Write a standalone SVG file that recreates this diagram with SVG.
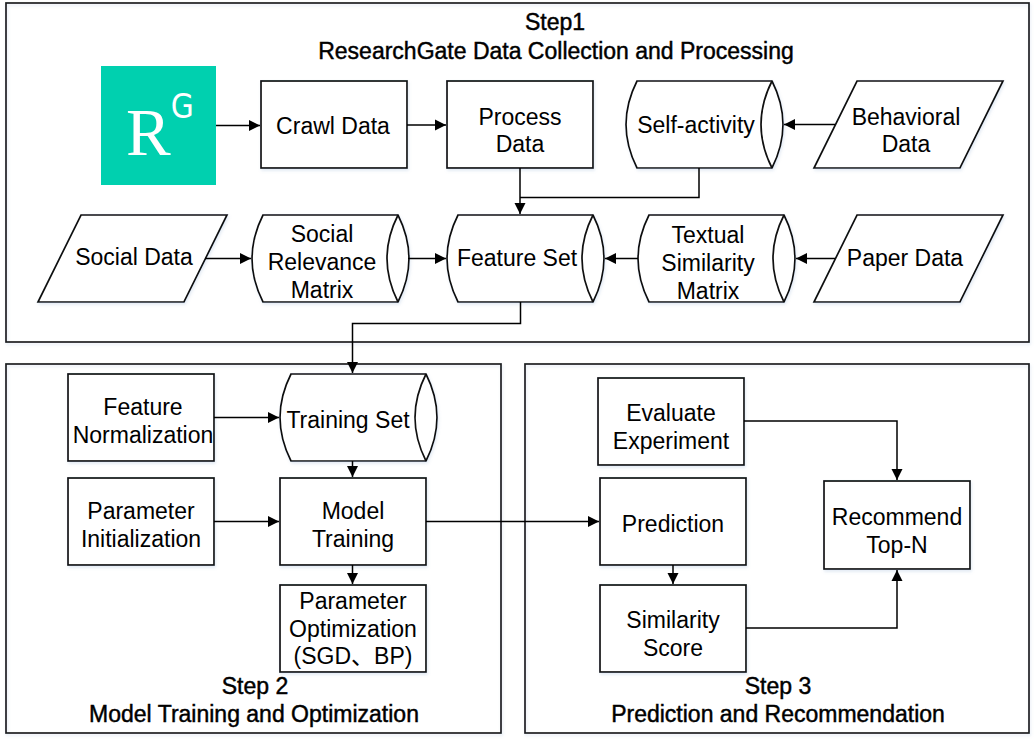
<svg xmlns="http://www.w3.org/2000/svg" width="1036" height="743" viewBox="0 0 1036 743">
<style>
text{font-family:"Liberation Sans",Arial,"Noto Sans CJK SC",sans-serif;font-size:23px;fill:#000;text-anchor:middle;transform:translateY(1px)}
.t{stroke:#000;stroke-width:.45px}
.s{fill:#fff;stroke:#111;stroke-width:1.7;filter:url(#sh)}
.l{fill:none;stroke:#111;stroke-width:1.7}
.f{fill:none;stroke:#1a1a1a;stroke-width:1.7;filter:url(#sh)}
.c{fill:none;stroke:#000;stroke-width:1.5;marker-end:url(#a)}
.p{fill:none;stroke:#000;stroke-width:1.5}
</style>
<defs>
<filter id="sh" x="-5%" y="-5%" width="110%" height="115%"><feDropShadow dx="1" dy="2" stdDeviation="1.5" flood-color="#7fa3cc" flood-opacity=".22"/></filter>
<marker id="a" markerUnits="userSpaceOnUse" markerWidth="12" markerHeight="13" refX="11" refY="6.500" orient="auto"><path d="M0 1L11 6.500L0 12Z" fill="#000"/></marker>
<path id="cyl" d="M11 0H146Q168 43.500 146 87H11Q-11 43.500 11 0Z"/>
<path id="lens" d="M146 0Q124 43.500 146 87"/>
<path id="par" d="M43 0H189L146 87H0Z"/>
</defs>
<rect width="1036" height="743" fill="#fff"/>
<g id="frames">
<rect id="step1-frame" class="f" x="6" y="3" width="1023" height="339"/>
<rect id="step2-frame" class="f" x="6" y="364" width="495" height="369"/>
<rect id="step3-frame" class="f" x="525" y="364" width="504" height="369"/>
</g>
<g id="titles">
<text class="t" x="555" y="29">Step1</text>
<text class="t" x="556" y="58">ResearchGate Data Collection and Processing</text>
<text class="t" x="255" y="693">Step 2</text>
<text class="t" x="254" y="721">Model Training and Optimization</text>
<text class="t" x="778" y="693">Step 3</text>
<text class="t" x="778" y="721">Prediction and Recommendation</text>
</g>
<g id="rg-logo">
<rect x="101" y="66" width="115" height="119" fill="#00d0af"/>
<text x="126" y="154" style="text-anchor:start;font-family:'Liberation Serif',serif;font-size:67px;fill:#fff">R<tspan dy="-37" style="font-family:'Liberation Sans Narrow','DejaVu Sans Condensed',sans-serif;font-size:33px">G</tspan></text>
</g>
<g id="crawl"><rect class="s" x="261" y="81" width="146" height="87"/><text x="333" y="133">Crawl Data</text></g>
<g id="process"><rect class="s" x="447" y="81" width="146" height="87"/><text x="520" y="124">Process</text><text x="520" y="151">Data</text></g>
<g id="self-activity"><use href="#cyl" x="626" y="81" class="s"/><use href="#lens" x="626" y="81" class="l"/><text x="696" y="132">Self-activity</text></g>
<g id="behavioral"><use href="#par" x="814" y="81" class="s"/><text x="906" y="124">Behavioral</text><text x="906" y="151">Data</text></g>
<g id="social-data"><use href="#par" x="38" y="215" class="s"/><text x="134" y="264">Social Data</text></g>
<g id="social-matrix"><use href="#cyl" x="252" y="215" class="s"/><use href="#lens" x="252" y="215" class="l"/><text x="322" y="241">Social</text><text x="322" y="269">Relevance</text><text x="322" y="297">Matrix</text></g>
<g id="feature-set"><use href="#cyl" x="447" y="215" class="s"/><use href="#lens" x="447" y="215" class="l"/><text x="517" y="265">Feature Set</text></g>
<g id="textual"><use href="#cyl" x="638" y="215" class="s"/><use href="#lens" x="638" y="215" class="l"/><text x="708" y="242">Textual</text><text x="708" y="270">Similarity</text><text x="708" y="298">Matrix</text></g>
<g id="paper"><use href="#par" x="814" y="215" class="s"/><text x="905" y="265">Paper Data</text></g>
<g id="normalization"><rect class="s" x="68" y="374" width="146" height="87"/><text x="143" y="414">Feature</text><text x="143" y="442">Normalization</text></g>
<g id="training-set"><use href="#cyl" x="280" y="374" class="s"/><use href="#lens" x="280" y="374" class="l"/><text x="348" y="427">Training Set</text></g>
<g id="initialization"><rect class="s" x="68" y="478" width="146" height="87"/><text x="141" y="518">Parameter</text><text x="141" y="546">Initialization</text></g>
<g id="model-training"><rect class="s" x="280" y="478" width="146" height="87"/><text x="353" y="518">Model</text><text x="353" y="546">Training</text></g>
<g id="optimization"><rect class="s" x="280" y="585" width="146" height="87"/><text x="353" y="608">Parameter</text><text x="353" y="636">Optimization</text><text x="353" y="663">(SGD、BP)</text></g>
<g id="evaluate"><rect class="s" x="598" y="378" width="146" height="87"/><text x="671" y="420">Evaluate</text><text x="671" y="448">Experiment</text></g>
<g id="prediction"><rect class="s" x="600" y="478" width="146" height="87"/><text x="673" y="531">Prediction</text></g>
<g id="similarity"><rect class="s" x="600" y="585" width="146" height="87"/><text x="673" y="627">Similarity</text><text x="673" y="655">Score</text></g>
<g id="recommend"><rect class="s" x="824" y="481" width="146" height="88"/><text x="897" y="524">Recommend</text><text x="897" y="552">Top-N</text></g>
<g id="connectors">
<path class="c" d="M216 125.500H260"/>
<path class="c" d="M407 125H446"/>
<path class="c" d="M835 124.500H784"/>
<path class="c" d="M520 168V214"/>
<path class="p" d="M699 168V197.500H520"/>
<path class="c" d="M205 258.500H251"/>
<path class="c" d="M408 258.500H446"/>
<path class="c" d="M638 258.500H605"/>
<path class="c" d="M835 258.500H796"/>
<path class="c" d="M520.500 302V323.500H352.500V373"/>
<path class="c" d="M214 417.500H279"/>
<path class="c" d="M352.500 461V477"/>
<path class="c" d="M214 521.500H279"/>
<path class="c" d="M426 521.500H599"/>
<path class="c" d="M352.500 565V584"/>
<path class="c" d="M673 565V584"/>
<path class="c" d="M744 421H897V480"/>
<path class="c" d="M746 628H897V570"/>
</g>
</svg>
